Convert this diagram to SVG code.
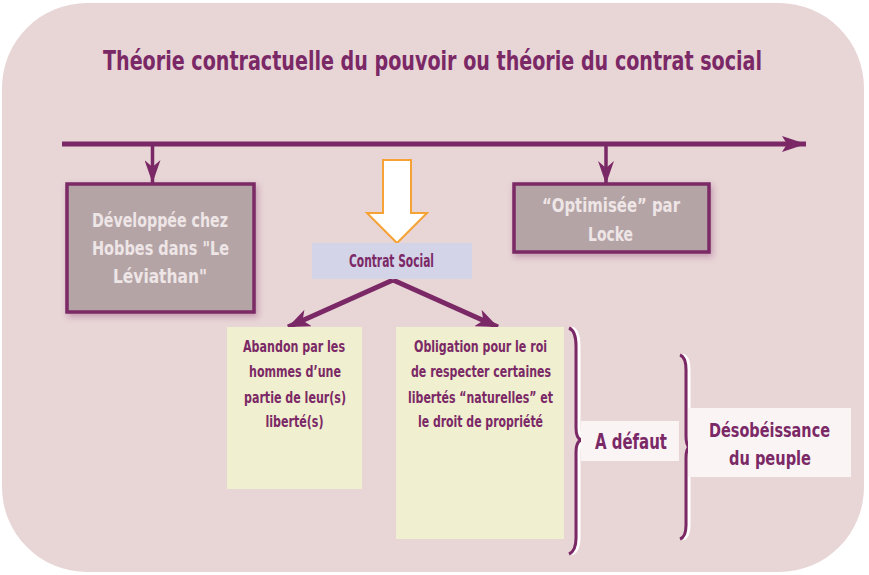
<svg xmlns="http://www.w3.org/2000/svg" width="869" height="575" viewBox="0 0 869 575">
<defs>
<style>
.t{font-family:"DejaVu Sans Condensed","Liberation Sans",sans-serif;font-weight:bold;text-anchor:middle}
.pu{fill:#7B2966}
.wt{fill:#EEE6E6}
.ln{stroke:#7B2966;fill:none}
.mauve{fill:#B5A4A6;stroke:#7B2966;stroke-width:3.5}
.yel{fill:#F0EFCF}
.brace{fill:none;stroke:#7B2966;stroke-width:3}
.braceW{fill:none;stroke:#FFFFFF;stroke-width:3}
</style>
<filter id="sh" x="-10%" y="-10%" width="130%" height="130%">
<feDropShadow dx="2" dy="3" stdDeviation="3" flood-color="#7B2966" flood-opacity="0.35"/>
</filter>
<marker id="ah" viewBox="0 0 24 16" refX="24" refY="8" markerWidth="24" markerHeight="16" markerUnits="userSpaceOnUse" orient="auto">
<path d="M0,0 L24,8 L0,16 L5,8 Z" fill="#7B2966"/>
</marker>
<marker id="ahs" viewBox="0 0 23 16" refX="23" refY="8" markerWidth="23" markerHeight="16" markerUnits="userSpaceOnUse" orient="auto">
<path d="M0,0 L23,8 L0,16 L7,8 Z" fill="#7B2966"/>
</marker>
<marker id="ahb" viewBox="0 0 22 18" refX="22" refY="9" markerWidth="22" markerHeight="18" markerUnits="userSpaceOnUse" orient="auto">
<path d="M0,0 L22,9 L0,18 L6,9 Z" fill="#7B2966"/>
</marker>
</defs>
<rect x="2" y="3" width="862" height="569" rx="85" ry="85" fill="#E8D5D6"/>
<g id="title"><text class="t pu" x="432.5" y="70" font-size="27" textLength="659" lengthAdjust="spacingAndGlyphs">Théorie contractuelle du pouvoir ou théorie du contrat social</text></g>
<g id="connectors">
<line class="ln" x1="62" y1="144" x2="806" y2="144" stroke-width="5" marker-end="url(#ah)"/>
<line class="ln" x1="152.5" y1="144" x2="152.5" y2="183" stroke-width="3.5" marker-end="url(#ahs)"/>
<line class="ln" x1="606" y1="144" x2="606" y2="184" stroke-width="3.5" marker-end="url(#ahs)"/>
<line class="ln" x1="393" y1="280" x2="288" y2="327" stroke-width="5" marker-end="url(#ahb)"/>
<line class="ln" x1="393" y1="280" x2="498" y2="327" stroke-width="5" marker-end="url(#ahb)"/>
<path id="hollow" d="M383,160 L411,160 L411,213 L427,213 L397,243 L367,213 L383,213 Z" fill="#FFFFFF" stroke="#F7A234" stroke-width="2"/>
<g id="brace1">
<path class="braceW" d="M572,328 Q579,331 579,346 L579,428 Q579,438 584,440 Q579,442 579,452 L579,538 Q579,551 572,554"/>
<path class="brace" d="M569,328 Q576,331 576,346 L576,428 Q576,438 581,440 Q576,442 576,452 L576,538 Q576,551 569,554"/>
</g>
<g id="brace2">
<path class="braceW" d="M683,355 Q689,357 689,370 L689,436 Q689,445 692,447 Q689,449 689,458 L689,525 Q689,537 683,539"/>
<path class="brace" d="M680,355 Q686,357 686,370 L686,436 Q686,445 689,447 Q686,449 686,458 L686,525 Q686,537 680,539"/>
</g>
</g>
<g id="n-hobbes">
<rect class="mauve" x="67" y="184" width="187" height="128" filter="url(#sh)"/>
<text class="t wt" font-size="20"><tspan x="160" y="227" textLength="136" lengthAdjust="spacingAndGlyphs">Développée chez</tspan><tspan x="160.5" y="255" textLength="137" lengthAdjust="spacingAndGlyphs">Hobbes dans "Le</tspan><tspan x="160" y="283" textLength="94" lengthAdjust="spacingAndGlyphs">Léviathan"</tspan></text>
</g>
<g id="n-locke">
<rect class="mauve" x="514" y="184" width="195" height="68" filter="url(#sh)"/>
<text class="t wt" font-size="20"><tspan x="611" y="212" textLength="138" lengthAdjust="spacingAndGlyphs">“Optimisée” par</tspan><tspan x="610.5" y="240.5" textLength="45" lengthAdjust="spacingAndGlyphs">Locke</tspan></text>
</g>
<g id="n-contrat">
<rect x="312" y="243" width="160" height="36" fill="#D4D4E8"/>
<text class="t pu" x="391.5" y="266.5" font-size="17" font-weight="normal" textLength="85" lengthAdjust="spacingAndGlyphs">Contrat Social</text>
</g>
<g id="n-abandon">
<rect class="yel" x="227" y="327" width="135" height="162"/>
<text class="t pu" font-size="16"><tspan x="294" y="352" textLength="102" lengthAdjust="spacingAndGlyphs">Abandon par les</tspan><tspan x="295" y="377" textLength="92" lengthAdjust="spacingAndGlyphs">hommes d’une</tspan><tspan x="295" y="403" textLength="102" lengthAdjust="spacingAndGlyphs">partie de leur(s)</tspan><tspan x="294.5" y="427" textLength="58" lengthAdjust="spacingAndGlyphs">liberté(s)</tspan></text>
</g>
<g id="n-obligation">
<rect class="yel" x="396" y="327" width="168" height="212"/>
<text class="t pu" font-size="16"><tspan x="480.5" y="352" textLength="133" lengthAdjust="spacingAndGlyphs">Obligation pour le roi</tspan><tspan x="481" y="377" textLength="140" lengthAdjust="spacingAndGlyphs">de respecter certaines</tspan><tspan x="480.5" y="403" textLength="145" lengthAdjust="spacingAndGlyphs">libertés “naturelles” et</tspan><tspan x="480.5" y="427" textLength="125" lengthAdjust="spacingAndGlyphs">le droit de propriété</tspan></text>
</g>
<g id="n-defaut">
<rect x="581" y="421" width="98" height="40" fill="#FAF4F4"/>
<text class="t pu" x="631" y="449" font-size="21" textLength="72" lengthAdjust="spacingAndGlyphs">A défaut</text>
</g>
<g id="n-desob">
<rect x="688" y="408" width="163" height="69" fill="#FAF4F4"/>
<text class="t pu" font-size="20"><tspan x="769.5" y="437" textLength="121" lengthAdjust="spacingAndGlyphs">Désobéissance</tspan><tspan x="770" y="465" textLength="82" lengthAdjust="spacingAndGlyphs">du peuple</tspan></text>
</g>
</svg>
